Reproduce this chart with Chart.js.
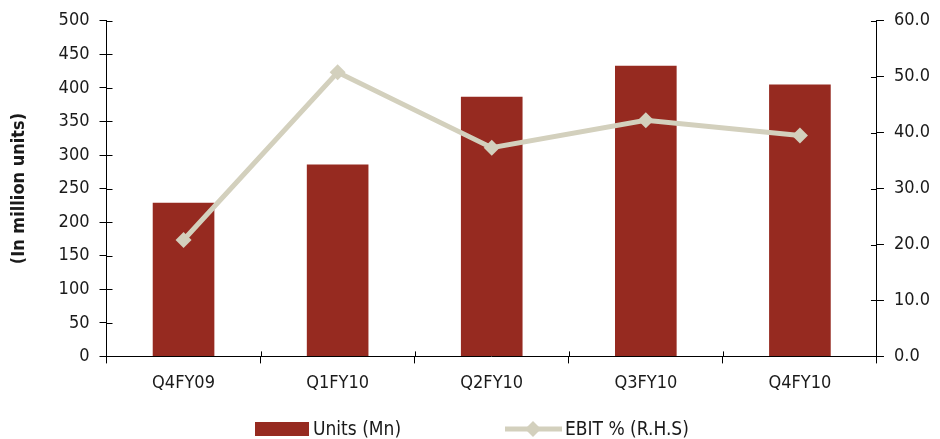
<!DOCTYPE html>
<html>
<head>
<meta charset="utf-8">
<script src="https://cdn.jsdelivr.net/npm/chart.js@4.4.0/dist/chart.umd.min.js"></script>
<style>
html, body { margin: 0; padding: 0; background: #fff; }
#wrap { width: 940px; height: 439px; }
</style>
</head>
<body>
<div id="wrap"><canvas id="chart"></canvas></div>
<script>
// data
const quarters = ['Q4FY09', 'Q1FY10', 'Q2FY10', 'Q3FY10', 'Q4FY10'];
const units = [229, 286, 387, 433, 405];
const ebitPct = [20.8, 50.8, 37.3, 42.2, 39.5];
const legendLabels = ['Units (Mn)', 'EBIT % (R.H.S)'];

const FONT = "'Liberation Sans Narrow', 'DejaVu Sans Condensed', 'Arial Narrow', sans-serif";
const BAR_COLOR = '#962a20';
const LINE_COLOR = '#d3d0bd';

// legend drawn by hand so the spacing matches the original
const bottomLegend = {
    id: 'bottomLegend',
    afterDraw(chart) {
        const ctx = chart.ctx;
        const y = 429;
        ctx.save();
        ctx.font = '19px ' + FONT;
        ctx.textBaseline = 'middle';

        ctx.fillStyle = BAR_COLOR;
        ctx.fillRect(255, y - 7, 54, 14);
        ctx.fillStyle = '#1a1a1a';
        ctx.fillText(legendLabels[0], 313, y + 1);

        ctx.strokeStyle = LINE_COLOR;
        ctx.lineWidth = 5;
        ctx.beginPath();
        ctx.moveTo(505, y);
        ctx.lineTo(562, y);
        ctx.stroke();
        ctx.fillStyle = LINE_COLOR;
        ctx.beginPath();
        ctx.moveTo(533, y - 8);
        ctx.lineTo(541, y);
        ctx.lineTo(533, y + 8);
        ctx.lineTo(525, y);
        ctx.closePath();
        ctx.fill();
        ctx.fillStyle = '#1a1a1a';
        ctx.fillText(legendLabels[1], 565, y + 1);
        ctx.restore();
    }
};

// the original's tick marks cross the axes, so add the inner half
const innerTicks = {
    id: 'innerTicks',
    afterDraw(chart) {
        const ctx = chart.ctx;
        const area = chart.chartArea;
        ctx.save();
        ctx.strokeStyle = '#000';
        ctx.lineWidth = 1;
        ctx.beginPath();
        chart.scales.y.ticks.forEach(t => {
            const py = Math.round(chart.scales.y.getPixelForValue(t.value)) + 0.5;
            ctx.moveTo(area.left, py);
            ctx.lineTo(area.left + 6, py);
        });
        chart.scales.y1.ticks.forEach(t => {
            const py = Math.round(chart.scales.y1.getPixelForValue(t.value)) + 0.5;
            ctx.moveTo(area.right, py);
            ctx.lineTo(area.right - 6, py);
        });
        const xs = chart.scales.x;
        for (let i = 1; i < quarters.length; i++) {
            const px = Math.round((xs.getPixelForTick(i - 1) + xs.getPixelForTick(i)) / 2) + 0.5;
            ctx.moveTo(px, area.bottom);
            ctx.lineTo(px, area.bottom - 5);
        }
        ctx.stroke();
        ctx.restore();
    }
};

new Chart(document.getElementById('chart'), {
    data: {
        labels: quarters,
        datasets: [
            {
                type: 'line',
                label: legendLabels[1],
                data: ebitPct,
                yAxisID: 'y1',
                borderColor: LINE_COLOR,
                backgroundColor: LINE_COLOR,
                borderWidth: 5,
                pointStyle: 'rectRot',
                pointRadius: 8,
                pointBorderWidth: 0,
                tension: 0,
                order: 0
            },
            {
                type: 'bar',
                label: legendLabels[0],
                data: units,
                yAxisID: 'y',
                backgroundColor: BAR_COLOR,
                barPercentage: 0.8,
                categoryPercentage: 0.5,
                order: 1
            }
        ]
    },
    options: {
        responsive: true,
        maintainAspectRatio: false,
        animation: false,
        layout: { padding: { top: 15, right: 0, bottom: 36, left: 9 } },
        plugins: {
            legend: { display: false },
            tooltip: { enabled: false }
        },
        scales: {
            x: {
                grid: { drawOnChartArea: false, tickLength: 7, color: '#000', offset: true },
                border: { color: '#000', width: 1 },
                ticks: { color: '#1a1a1a', font: { family: FONT, size: 18 }, padding: 9 }
            },
            y: {
                position: 'left',
                min: 0,
                max: 500,
                ticks: { stepSize: 50, color: '#1a1a1a', font: { family: FONT, size: 18 }, padding: 10 },
                grid: { drawOnChartArea: false, tickLength: 7, color: '#000' },
                border: { color: '#000', width: 1 },
                title: {
                    display: true,
                    text: '(In million units)',
                    color: '#1a1a1a',
                    font: { family: FONT, size: 18, weight: 'bold' },
                    padding: { top: 0, bottom: 18 }
                }
            },
            y1: {
                position: 'right',
                min: 0,
                max: 60,
                ticks: {
                    stepSize: 10,
                    color: '#1a1a1a',
                    font: { family: FONT, size: 18 },
                    padding: 10,
                    callback: v => v.toFixed(1)
                },
                grid: { drawOnChartArea: false, tickLength: 7, color: '#000' },
                border: { color: '#000', width: 1 }
            }
        }
    },
    plugins: [bottomLegend, innerTicks]
});
</script>
</body>
</html>
